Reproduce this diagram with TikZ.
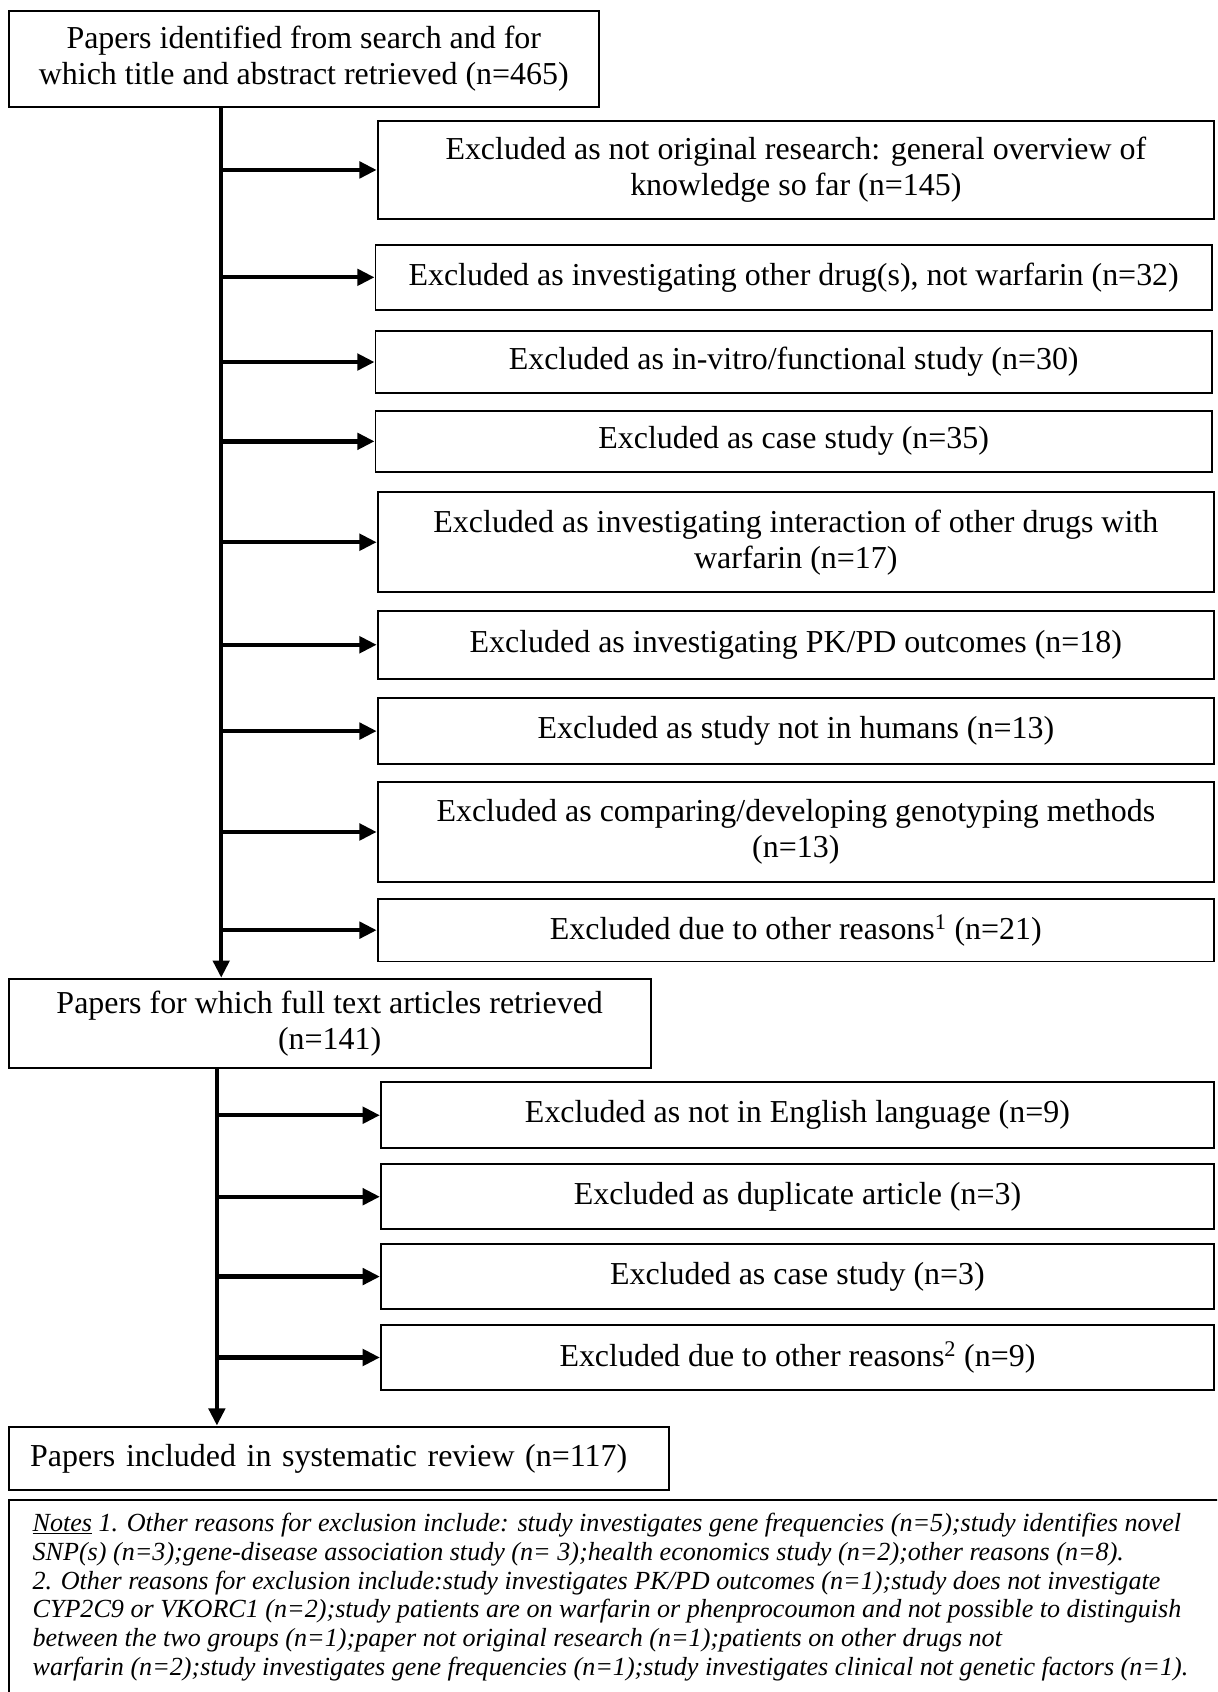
\documentclass[tikz,border=0pt]{standalone}
\usepackage{fontspec}
\setmainfont{Liberation Serif}
\usetikzlibrary{arrows.meta}
\begin{document}
\begin{tikzpicture}[x=1pt,y=-1pt,
  box/.style={draw,line width=1.8pt,inner sep=0pt,align=center,font=\fontsize{29.6}{33.5}\selectfont},
  conn/.style={line width=4pt},
  arr/.style={line width=4pt,-{Triangle[length=16pt,width=15pt]}},
  note/.style={anchor=base west,inner sep=0pt,font=\fontsize{24.2}{26}\selectfont\itshape}]
\clip (0,0) rectangle (1128,1568);
\fill[white] (0,0) rectangle (1128,1568);
\coordinate (s1) at (205,0);
\coordinate (s2) at (201,0);
% boxes
\node[box,minimum width=547,minimum height=89] (top) at (281.5,54.5) {Papers identified from search and for\\which title and abstract retrieved (n=465)};
\node[box,minimum width=775,minimum height=91] (e1) at (737.5,157.5) {Excluded as not original research: general overview of\\knowledge so far (n=145)};
\node[box,minimum width=775,minimum height=60] (e2) at (735.5,257) {Excluded as investigating other drug(s), not warfarin (n=32)};
\node[box,minimum width=775,minimum height=57] (e3) at (735.5,335.5) {Excluded as in-vitro/functional study (n=30)};
\node[box,minimum width=775,minimum height=56] (e4) at (735.5,409) {Excluded as case study (n=35)};
\node[box,minimum width=775,minimum height=93] (e5) at (737.5,502.5) {Excluded as investigating interaction of other drugs with\\warfarin (n=17)};
\node[box,minimum width=775,minimum height=63] (e6) at (737.5,597.5) {Excluded as investigating PK/PD outcomes (n=18)};
\node[box,minimum width=775,minimum height=61] (e7) at (737.5,677.5) {Excluded as study not in humans (n=13)};
\node[box,minimum width=775,minimum height=92] (e8) at (737.5,771) {Excluded as comparing/developing genotyping methods\\(n=13)};
\node[box,minimum width=775,minimum height=58] (e9) at (737.5,862) {Excluded due to other reasons\textsuperscript{1} (n=21)};
\node[box,minimum width=595,minimum height=83] (mid) at (305.5,948.5) {Papers for which full text articles retrieved\\(n=141)};
\node[box,minimum width=772,minimum height=61] (f1) at (739,1033.5) {Excluded as not in English language (n=9)};
\node[box,minimum width=772,minimum height=60] (f2) at (739,1109) {Excluded as duplicate article (n=3)};
\node[box,minimum width=772,minimum height=60] (f3) at (739,1183) {Excluded as case study (n=3)};
\node[box,minimum width=772,minimum height=60] (f4) at (739,1258) {Excluded due to other reasons\textsuperscript{2} (n=9)};
\node[box,minimum height=59,text width=572,inner xsep=20pt,align=left] (final) at (314,1351.5) {Papers included in systematic review (n=117)};
% connectors
\draw[arr] (top.south -| s1) -- (mid.north -| s1);
\foreach \b in {e1,e2,e3,e4,e5,e6,e7,e8,e9}{
  \draw[arr] (\b.west -| s1) -- (\b.west);
}
\draw[arr] (mid.south -| s2) -- (final.north -| s2);
\foreach \b in {f1,f2,f3,f4}{
  \draw[arr] (\b.west -| s2) -- (\b.west);
}
% notes
\coordinate (nb) at (8,1390);
\draw[line width=1.8pt] (8,1600) -- (nb) -- (1140,1390);
\node[note] (n1) at (30,1419) {\underline{Notes} 1. Other reasons for exclusion include: study investigates gene frequencies (n=5);study identifies novel};
\node[note] (n2) at (30,1446) {SNP(s) (n=3);gene-disease association study (n= 3);health economics study (n=2);other reasons (n=8).};
\node[note] (n3) at (30,1473) {2. Other reasons for exclusion include:study investigates PK/PD outcomes (n=1);study does not investigate};
\node[note] (n4) at (30,1499) {CYP2C9 or VKORC1 (n=2);study patients are on warfarin or phenprocoumon and not possible to distinguish};
\node[note] (n5) at (30,1526) {between the two groups (n=1);paper not original research (n=1);patients on other drugs not};
\node[note] (n6) at (30,1553) {warfarin (n=2);study investigates gene frequencies (n=1);study investigates clinical not genetic factors (n=1).};
\end{tikzpicture}
\end{document}
